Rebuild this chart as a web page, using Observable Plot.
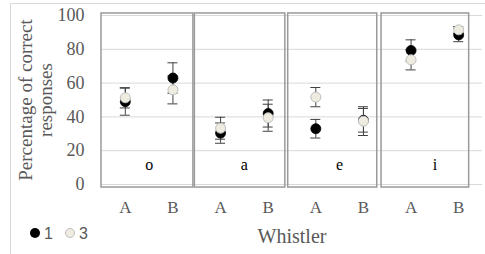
<!DOCTYPE html>
<html><head><meta charset="utf-8">
<script src="https://cdn.jsdelivr.net/npm/d3@7"></script>
<script src="https://cdn.jsdelivr.net/npm/@observablehq/plot@0.6"></script>
<style>
html,body{margin:0;padding:0;background:#fff;}
#wrap{position:relative;width:485px;height:254px;overflow:hidden;background:#fff;}
#border{position:absolute;left:10px;top:3px;width:600px;height:400px;border-top:1px solid #d9d9d9;border-left:1px solid #d9d9d9;pointer-events:none;}
#chart{position:absolute;left:0;top:0;}
.lg{position:absolute;font-family:"Liberation Sans",Arial,sans-serif;font-size:16px;color:#595959;line-height:16px;}
.dot{position:absolute;width:10px;height:10px;border-radius:50%;box-sizing:border-box;}
</style></head>
<body>
<div id="wrap"><div id="chart"></div><div id="border"></div>
<div class="dot" style="left:30px;top:228px;background:#000;"></div>
<div class="lg" style="left:44px;top:226px;">1</div>
<div class="dot" style="left:65px;top:228px;background:#eeece1;border:1px solid #bfbfbf;"></div>
<div class="lg" style="left:79px;top:226px;">3</div>
</div>
<script>
const vowels = ["o", "a", "e", "i"];
const whistlers = ["A", "B"];
// order: oA, oB, aA, aB, eA, eB, iA, iB
const series1 = [49, 63, 30.4, 42, 33, 38, 79.3, 88.5];
const err1 = [8, 9, 6, 8, 5.5, 7, 6.3, 4];
const series3 = [51.3, 56, 33.3, 39.5, 51.7, 37.5, 73.8, 91.5];
const err3 = [6, 8.3, 6.5, 8, 5.7, 8.5, 6, 2];
const yTicks = [0, 20, 40, 60, 80, 100];
const yLabel = "Percentage of correct\nresponses";
const xLabel = "Whistler";

const cats = [];
vowels.forEach((v, k) => whistlers.forEach((w, j) => cats.push({pos: k * 2 + j, vowel: v, whistler: w})));
const rows1 = cats.map((c, i) => ({...c, value: series1[i], err: err1[i]}));
const rows3 = cats.map((c, i) => ({...c, value: series3[i], err: err3[i]}));
const boxes = vowels.map((v, k) => ({k, vowel: v}));
const serif = "Liberation Serif, Times New Roman, serif";
const capW = 0.105;
const errMarks = (rows) => [
  Plot.ruleX(rows, {x: "pos", y1: d => d.value - d.err, y2: d => d.value + d.err, stroke: "#404040", strokeWidth: 1}),
  Plot.ruleY(rows, {y: d => d.value + d.err, x1: d => d.pos - capW, x2: d => d.pos + capW, stroke: "#404040", strokeWidth: 1}),
  Plot.ruleY(rows, {y: d => d.value - d.err, x1: d => d.pos - capW, x2: d => d.pos + capW, stroke: "#404040", strokeWidth: 1})
];

const chart = Plot.plot({
  width: 485,
  height: 254,
  marginLeft: 101,
  marginRight: 3,
  marginTop: 15,
  marginBottom: 70,
  style: {background: "transparent", fontFamily: serif},
  x: {domain: [-0.5, 7.5], axis: null},
  y: {domain: [0, 100], axis: null},
  marks: [
    Plot.ruleY(yTicks, {y: d => d, stroke: "#d9d9d9", strokeWidth: 1}),
    Plot.rect(boxes, {x1: d => 1.96 * d.k - 0.5, x2: d => 1.93 * d.k + 1.43, y1: -1.8, y2: 101.2, fill: "none", stroke: "#9a9a9a", strokeWidth: 1.5}),
    Plot.text(yTicks, {y: d => d, text: d => String(d), frameAnchor: "left", dx: -17, textAnchor: "end", lineAnchor: "middle", fontSize: 18, fill: "#595959", fontFamily: serif}),
    Plot.text(cats, {x: "pos", text: "whistler", frameAnchor: "bottom", lineAnchor: "middle", textAnchor: "middle", dy: 23.5, fontSize: 17, fill: "#595959", fontFamily: serif}),
    Plot.text([xLabel], {text: d => d, frameAnchor: "bottom", lineAnchor: "middle", textAnchor: "middle", dy: 52.5, fontSize: 20, fill: "#595959", fontFamily: serif}),
    Plot.text([yLabel], {text: d => d, frameAnchor: "left", rotate: -90, dx: -66, textAnchor: "middle", lineAnchor: "middle", fontSize: 19, lineHeight: 1.05, fill: "#595959", fontFamily: serif}),
    Plot.text(boxes, {x: d => 2 * d.k + 0.5, text: "vowel", frameAnchor: "bottom", lineAnchor: "middle", textAnchor: "middle", dy: -20, fontSize: 16, fill: "#000", fontFamily: serif}),
    ...errMarks(rows1),
    ...errMarks(rows3),
    Plot.dot(rows1, {x: "pos", y: "value", r: 5, fill: "#000", stroke: "#000", strokeWidth: 0.8}),
    Plot.dot(rows3, {x: "pos", y: "value", r: 5, fill: "#eeece1", stroke: "#bfbfbf", strokeWidth: 1})
  ]
});
document.getElementById("chart").appendChild(chart);
</script>
</body></html>
